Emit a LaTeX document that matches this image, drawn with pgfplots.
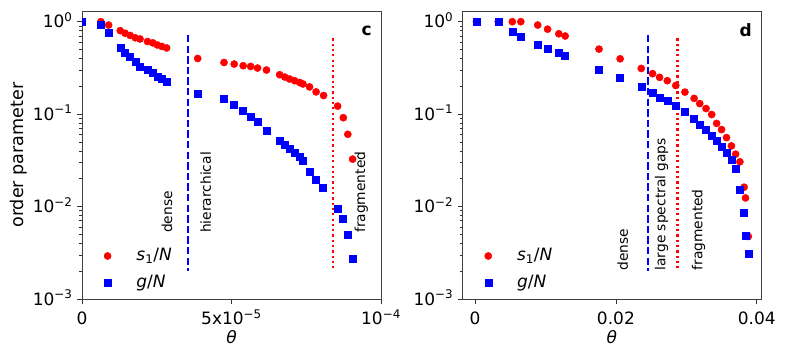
\documentclass[border=0pt]{standalone}
\usepackage{fontspec}
\setmainfont{DejaVu Sans}
\usepackage{pgfplots}
\pgfplotsset{compat=1.18}

\definecolor{mplred}{rgb}{1,0,0}
\definecolor{mplblue}{rgb}{0,0,1}

\newcommand{\bigfont}{\fontsize{17bp}{20bp}\selectfont}
\newcommand{\yl}[1]{10\textsuperscript{#1}}

\tikzset{
    regime/.style = {rotate=90, anchor=west, inner sep=0pt, font=\fontsize{13.8bp}{16bp}\selectfont},
    bluedash/.style = {mplblue, line width=2bp, dash pattern=on 7.4bp off 3.2bp},
    reddot/.style = {mplred, line width=2.2bp, dash pattern=on 2.2bp off 3.1bp},
}

\begin{document}
\begin{tikzpicture}
\useasboundingbox (0,0) rectangle (789bp,359bp);

% panel c
\begin{axis}[
    scale only axis,
    at = {(82bp,60bp)}, anchor = south west,
    width = 299bp, height = 288bp,
    xmin = 0, xmax = 1e-4,
    ymode = log, ymin = 1e-3, ymax = 1.305,
    scaled x ticks = false,
    clip mode = individual, clip marker paths = true,
    axis line style = {black!75, line width=0.9bp},
    tick style = {black!80, line width=0.8bp},
    major tick length = 4.8bp, minor tick length = 2.6bp,
    tick align = outside,
    xtick pos = left, ytick pos = left,
    xtick = {0,5e-5,1e-4},
    xticklabels = {0,5x\yl{−5},\yl{−4}},
    ytick = {1e-3,1e-2,1e-1,1},
    yticklabels = {\yl{−3},\yl{−2},\yl{−1},\yl{0}},
    minor ytick = {2e-3,3e-3,4e-3,5e-3,6e-3,7e-3,8e-3,9e-3,
                   2e-2,3e-2,4e-2,5e-2,6e-2,7e-2,8e-2,9e-2,
                   2e-1,3e-1,4e-1,5e-1,6e-1,7e-1,8e-1,9e-1},
    tick label style = {font=\bigfont, inner sep=0pt},
    yticklabel style = {anchor=base east, xshift=-4.5bp, yshift=-6bp},
    xticklabel style = {anchor=base, yshift=-21bp},
    label style = {font=\bigfont},
    xlabel = {\textit{θ}},
    xlabel style = {at={(axis description cs:0.5,-0.131)}, anchor=center},
    ylabel = {order parameter},
    ylabel style = {at={(axis description cs:-0.211,0.5)}, anchor=center,
                    font=\fontsize{17.6bp}{20bp}\selectfont},
    legend image code/.code = {\draw[#1] plot coordinates {(0bp,1bp)};},
    legend cell align = left,
    legend style = {draw=none, fill=none, inner sep=0pt,
                    at={(rel axis cs:0.0729,0.0995)}, anchor=west,
                    row sep=10.7bp, column sep=25.2bp, font=\bigfont,
                    nodes={inner sep=0pt, text height=12bp, text depth=4bp}},
]
    \addplot[bluedash, forget plot] coordinates {(35.3e-6,0.718) (35.3e-6,0.00202)};
    \addplot[reddot, forget plot] coordinates {(83.9e-6,0.661) (83.9e-6,0.00202)};

    \addplot[only marks, mark=*, mark size=3.6bp, mplred, mark options={draw=none, fill=mplred}] coordinates {
        (0,1.0) (6.3e-6,1.0) (8.9e-6,0.92) (12.8e-6,0.80) (14.4e-6,0.75)
        (16.1e-6,0.71) (17.8e-6,0.67) (19.4e-6,0.65) (21.9e-6,0.61) (23.7e-6,0.59)
        (25.2e-6,0.56) (26.7e-6,0.54) (28.3e-6,0.52) (38.7e-6,0.40) (47.5e-6,0.362)
        (50.9e-6,0.348) (53.9e-6,0.334) (56.4e-6,0.328) (58.7e-6,0.315) (61.7e-6,0.30)
        (66.1e-6,0.267) (67.8e-6,0.252) (69.4e-6,0.24) (71.1e-6,0.23) (72.8e-6,0.22)
        (73.9e-6,0.212) (76.1e-6,0.197) (78.3e-6,0.174) (80.8e-6,0.159) (85.5e-6,0.122)
        (87.4e-6,0.0915) (88.9e-6,0.0605) (90.5e-6,0.0326)
    };
    \addlegendentry{\textit{s}\textsubscript{1}/\textit{N}}

    \addplot[only marks, mark=square*, mark size=3.5bp, mplblue, mark options={draw=none, fill=mplblue}] coordinates {
        (0,1.0) (6.4e-6,0.92) (8.9e-6,0.76) (12.8e-6,0.52) (14.4e-6,0.457)
        (16.1e-6,0.414) (17.8e-6,0.366) (19.4e-6,0.328) (21.9e-6,0.30) (23.7e-6,0.279)
        (25.2e-6,0.256) (26.7e-6,0.242) (28.3e-6,0.226) (38.7e-6,0.167) (47.5e-6,0.146)
        (50.9e-6,0.127) (53.9e-6,0.11) (56.4e-6,0.094) (58.7e-6,0.083) (61.7e-6,0.067)
        (66.1e-6,0.051) (67.8e-6,0.0465) (69.4e-6,0.0425) (71.1e-6,0.0385) (72.8e-6,0.035)
        (73.9e-6,0.031) (76.1e-6,0.0241) (78.3e-6,0.0195) (80.6e-6,0.0159) (85.5e-6,0.0094)
        (87.2e-6,0.0074) (88.9e-6,0.005) (90.5e-6,0.00274)
    };
    \addlegendentry{\textit{g}/\textit{N}}

    \node[regime] at (axis cs:28.4e-6,0.00518) {dense};
    \node[regime] at (axis cs:41.4e-6,0.00518) {hierarchical};
    \node[regime] at (axis cs:93.4e-6,0.00518) {fragmented};
    \node[font=\bfseries\bigfont] at (rel axis cs:0.952,0.932) {c};
\end{axis}

% panel d
\begin{axis}[
    scale only axis,
    at = {(462.7bp,60bp)}, anchor = south west,
    width = 298.3bp, height = 288bp,
    xmin = -0.00175, xmax = 0.0406,
    ymode = log, ymin = 1e-3, ymax = 1.305,
    scaled x ticks = false,
    clip mode = individual, clip marker paths = true,
    axis line style = {black!75, line width=0.9bp},
    tick style = {black!80, line width=0.8bp},
    major tick length = 4.8bp, minor tick length = 2.6bp,
    tick align = outside,
    xtick pos = left, ytick pos = left,
    xtick = {0,0.02,0.04},
    xticklabels = {0,0.02,0.04},
    ytick = {1e-3,1e-2,1e-1,1},
    yticklabels = {\yl{−3},\yl{−2},\yl{−1},\yl{0}},
    minor ytick = {2e-3,3e-3,4e-3,5e-3,6e-3,7e-3,8e-3,9e-3,
                   2e-2,3e-2,4e-2,5e-2,6e-2,7e-2,8e-2,9e-2,
                   2e-1,3e-1,4e-1,5e-1,6e-1,7e-1,8e-1,9e-1},
    tick label style = {font=\bigfont, inner sep=0pt},
    yticklabel style = {anchor=base east, xshift=-4.5bp, yshift=-6bp},
    xticklabel style = {anchor=base, yshift=-21bp},
    label style = {font=\bigfont},
    xlabel = {\textit{θ}},
    xlabel style = {at={(axis description cs:0.5,-0.131)}, anchor=center},
    legend image code/.code = {\draw[#1] plot coordinates {(0bp,1bp)};},
    legend cell align = left,
    legend style = {draw=none, fill=none, inner sep=0pt,
                    at={(rel axis cs:0.0729,0.0995)}, anchor=west,
                    row sep=10.7bp, column sep=25.2bp, font=\bigfont,
                    nodes={inner sep=0pt, text height=12bp, text depth=4bp}},
]
    \addplot[bluedash, forget plot] coordinates {(0.02458,0.718) (0.02458,0.00202)};
    \addplot[reddot, forget plot] coordinates {(0.02875,0.661) (0.02875,0.00202)};

    \addplot[only marks, mark=*, mark size=3.6bp, mplred, mark options={draw=none, fill=mplred}] coordinates {
        (0.0002,1.0) (0.0033,1.0) (0.0053,1.0) (0.0065,1.0) (0.0089,0.92)
        (0.0103,0.83) (0.0119,0.74) (0.0128,0.70) (0.0176,0.505) (0.0206,0.397)
        (0.0236,0.312) (0.0252,0.274) (0.0262,0.25) (0.0273,0.23) (0.0285,0.204)
        (0.0298,0.173) (0.0311,0.148) (0.0319,0.13) (0.0328,0.115) (0.0336,0.099)
        (0.0343,0.0794) (0.0350,0.068) (0.0357,0.0557) (0.0364,0.0453) (0.0370,0.0369)
        (0.0376,0.0305) (0.0382,0.0162) (0.0384,0.0124) (0.0388,0.00475)
    };
    \addlegendentry{\textit{s}\textsubscript{1}/\textit{N}}

    \addplot[only marks, mark=square*, mark size=3.5bp, mplblue, mark options={draw=none, fill=mplblue}] coordinates {
        (0.0002,1.0) (0.0033,1.0) (0.0053,0.78) (0.0065,0.69) (0.0089,0.57)
        (0.0103,0.51) (0.0119,0.457) (0.0128,0.43) (0.0176,0.30) (0.0206,0.25)
        (0.0236,0.197) (0.0252,0.17) (0.0262,0.152) (0.0273,0.14) (0.0285,0.122)
        (0.0298,0.106) (0.0311,0.09) (0.0319,0.0776) (0.0328,0.068) (0.0336,0.059)
        (0.0343,0.051) (0.0350,0.044) (0.0357,0.0378) (0.0364,0.032) (0.0370,0.0254)
        (0.0376,0.0152) (0.0382,0.0086) (0.0384,0.0048) (0.0388,0.0031)
    };
    \addlegendentry{\textit{g}/\textit{N}}

    \node[regime] at (axis cs:0.02096,0.00203) {dense};
    \node[regime] at (axis cs:0.02648,0.00203) {large spectral gaps};
    \node[regime] at (axis cs:0.03175,0.00203) {fragmented};
    \node[font=\bfseries\bigfont] at (rel axis cs:0.949,0.934) {d};
\end{axis}
\end{tikzpicture}
\end{document}
